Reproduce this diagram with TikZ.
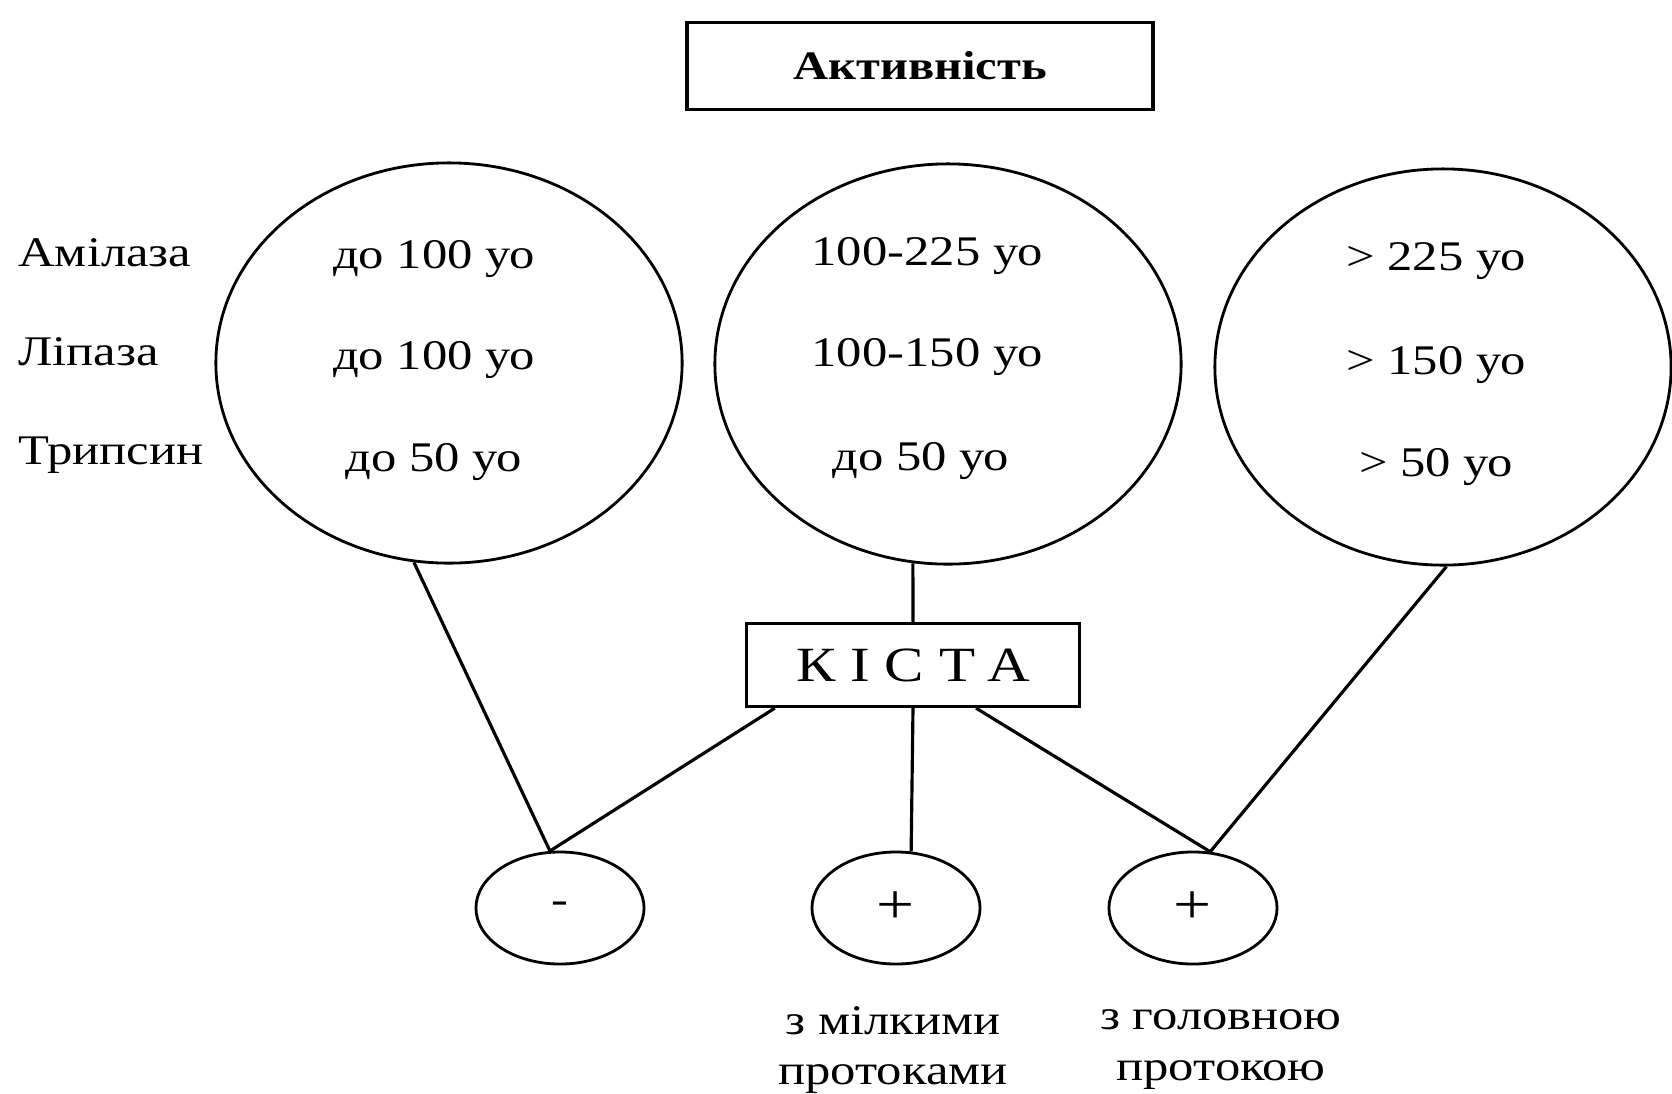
\documentclass[tikz,border=0pt]{standalone}
\usepackage{fontspec}
\setmainfont{Liberation Serif}[FakeStretch=1.2]
\usetikzlibrary{shapes.geometric}

\tikzset{
	oval/.style={draw, ellipse, line width=0.8pt, inner sep=0pt},
	link/.style={line width=0.9pt},
}

\begin{document}
\begin{tikzpicture}[x=0.01cm, y=-0.01cm, font=\fontsize{12}{13.7}\selectfont]

\useasboundingbox (0,0) rectangle (1672,1093);

\node[draw, line width=1.1pt, minimum width=4.66cm, minimum height=0.87cm, font=\fontsize{11.5}{14}\selectfont\bfseries] (act) at (920,66) {Активність};

% big ovals
\node[oval, minimum width=4.66cm, minimum height=4cm] (e1) at (449,363) {};
\node[oval, minimum width=4.66cm, minimum height=4cm] (e2) at (948,364) {};
\node[oval, minimum width=4.56cm, minimum height=3.96cm] (e3) at (1443,367) {};

\foreach \y/\name/\text in {
	253/am/Амілаза,
	352/lip/Ліпаза,
	455/tryp/Трипсин}
\node[anchor=west] (\name) at (6,\y) {\text};

\foreach \x/\y/\name/\text in {
	434/259/va1/до 100 уо,
	434/360/vb1/до 100 уо,
	434/462/vc1/до 50 уо,
	927/256/va2/100-225 уо,
	927/357/vb2/100-150 уо,
	921/461/vc2/до 50 уо,
	1436/261/va3/> 225 уо,
	1436/365/vb3/> 150 уо,
	1436/467/vc3/> 50 уо}
\node (\name) at (\x,\y) {\text};

\node[draw, line width=0.9pt, minimum width=3.33cm, minimum height=0.83cm, font=\fontsize{14}{16}\selectfont\addfontfeature{LetterSpace=30}] (kista) at (913,665) {КІСТА};

% small ovals
\node[oval, minimum width=1.68cm, minimum height=1.12cm] (c1) at (560,908) {-};
\node[oval, minimum width=1.68cm, minimum height=1.12cm, font=\fontsize{16}{16}\selectfont] (c2) at (896,908) {+};
\node[oval, minimum width=1.68cm, minimum height=1.12cm, font=\fontsize{16}{16}\selectfont] (c3) at (1193,908) {+};

\node[align=center, font=\fontsize{12}{14.5}\selectfont] (small) at (893,1050) {з мілкими\\протоками};
\node[align=center, font=\fontsize{12}{14.5}\selectfont] (main) at (1221,1050) {з головною\\протокою};

\draw[link] (e1.260) -- (c1.100);
\draw[link] ([xshift=0.3cm]kista.south west) -- (c1.100);
\draw[link] (e2.260) -- (kista.north);
\draw[link] (kista.south) -- (c2.75);
\draw[link] ([xshift=0.63cm]kista.south) -- (c3.73);
\draw[link] (e3.271) -- (c3.73);

\end{tikzpicture}
\end{document}
